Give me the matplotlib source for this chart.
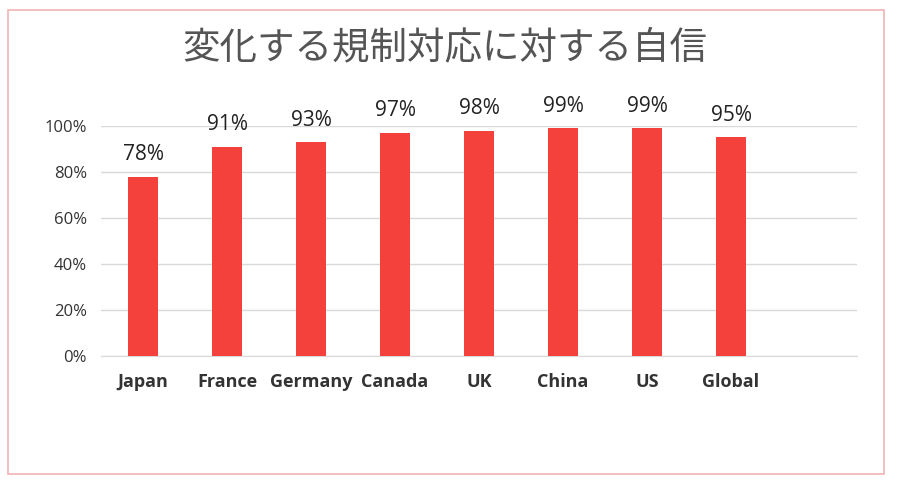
import matplotlib
matplotlib.use("Agg")
import matplotlib.pyplot as plt
from matplotlib.patches import Rectangle

categories = ["Japan", "France", "Germany", "Canada", "UK", "China", "US", "Global"]
values = [78, 91, 93, 97, 98, 99, 99, 95]
labels = ["78%", "91%", "93%", "97%", "98%", "99%", "99%", "95%"]
title = "変化する規制対応に対する自信"

plt.rcParams['font.family'] = ['Noto Sans CJK JP', 'DejaVu Sans']
fig = plt.figure(figsize=(9, 4.84), dpi=100)
fig.patches.append(Rectangle((8/900, 1-474/484), 876/900, 464/484, transform=fig.transFigure,
                             fill=False, edgecolor='#f0b4b4', linewidth=1.2))
ax = fig.add_axes([101/900, 1-356/484, 756/900, 230/484])
x = range(len(categories))
ax.bar(x, values, width=0.35, color='#F5413B', zorder=3)
for i, (v, l) in enumerate(zip(values, labels)):
    ax.text(i, v + 5, l, ha='center', va='bottom', fontsize=15, family=['Open Sans', 'DejaVu Sans'], color='#222222')
ax.set_xlim(-0.5, 8.5)
ax.set_ylim(0, 100)
ax.set_yticks([0, 20, 40, 60, 80, 100])
ax.set_yticklabels([f"{t}%" for t in [0, 20, 40, 60, 80, 100]], fontsize=12, family=['Open Sans', 'DejaVu Sans'], color='#333333')
ax.set_xticks(list(x))
ax.set_xticklabels(categories, fontsize=13, fontweight='bold', family=['Open Sans', 'DejaVu Sans'], color='#333333')
ax.grid(axis='y', color='#d9d9d9', linewidth=1, zorder=0)
for s in ['top', 'right', 'left']:
    ax.spines[s].set_visible(False)
ax.spines['bottom'].set_color('#d9d9d9')
ax.tick_params(length=0, pad=12)
ax.tick_params(axis='y', pad=10)
fig.text(445/900, 1-48/484, title, ha='center', va='center', fontsize=27, color='#555555')
fig.savefig("out.png", dpi=100)
